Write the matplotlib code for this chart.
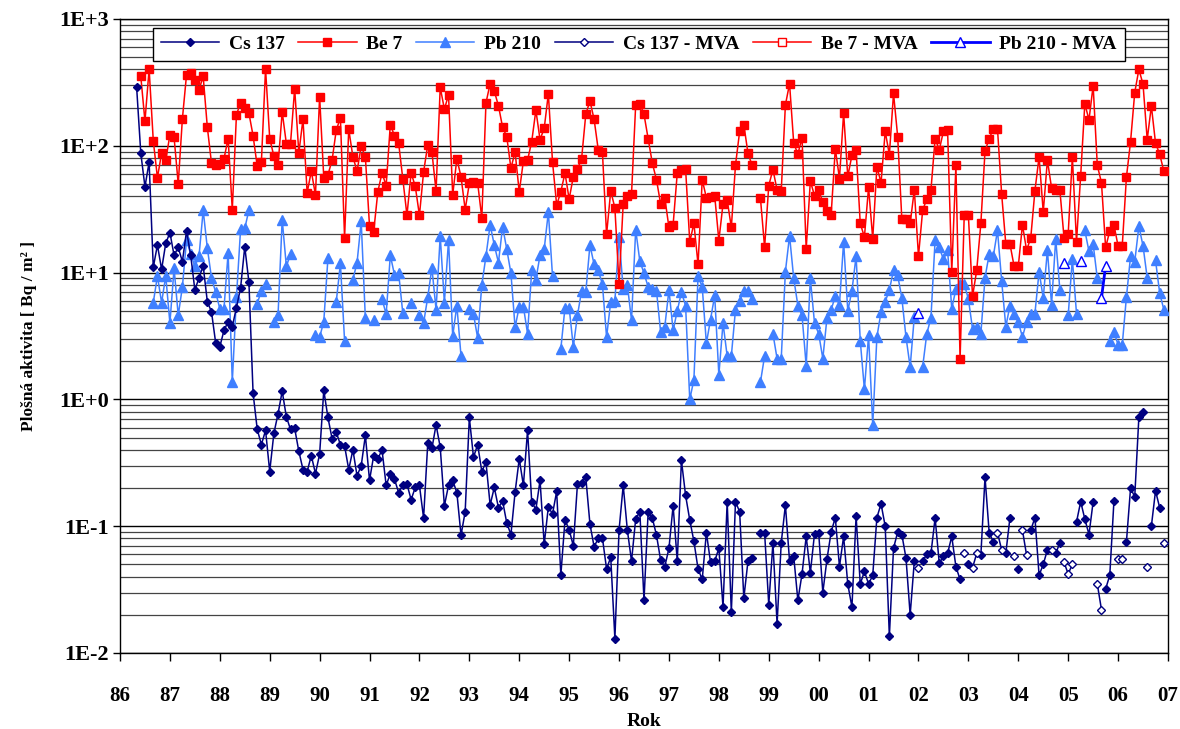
import numpy as np
import pandas as pd
import matplotlib
matplotlib.use("Agg")
import matplotlib.pyplot as plt
from matplotlib.ticker import FixedLocator, LogLocator, NullFormatter, FuncFormatter

nan = np.nan

# ---------------- data (monthly, first month = May 1986) ----------------
first_month = "1986-05"
n_months = 248

cs137 = [
    289, 87.5, 47.5, 74.3, 11, 16.5, 10.6, 17, 20.7, 13.7, 15.8, 12.2, 21.3, 13.7, 7.3, 9.1,
    11.3, 5.9, 4.9, 2.8, 2.6, 3.5, 4.1, 3.75, 5.3, 7.6, 16, 8.4, 1.12, 0.58, 0.44, 0.57,
    0.27, 0.54, 0.77, 1.16, 0.73, 0.58,
    0.59, 0.39, 0.28, 0.27, 0.36, 0.26, 0.37, 1.18, 0.72, 0.49, 0.55, 0.44, 0.43, 0.28,
    0.40, 0.25, 0.30, 0.52, 0.23, 0.36, 0.34, 0.40, 0.21, 0.26, 0.235, 0.184, 0.21, 0.215,
    0.162, 0.202, 0.21, 0.116, 0.45, 0.41, 0.63, 0.42, 0.145, 0.21, 0.23, 0.184, 0.085, 0.13,
    0.72, 0.35, 0.44, 0.27, 0.32, 0.147, 0.202, 0.14, 0.158, 0.106, 0.086, 0.185, 0.34, 0.21,
    0.57, 0.156, 0.135, 0.23, 0.072, 0.142, 0.125, 0.188, 0.041, 0.112, 0.094, 0.07, 0.215,
    0.22, 0.244, 0.104, 0.069, 0.08, 0.081, 0.046, 0.057, 0.013, 0.093, 0.21, 0.093, 0.053,
    0.114, 0.13,
    0.026, 0.13, 0.116, 0.085, 0.054, 0.048, 0.067, 0.145, 0.053, 0.33, 0.175, 0.112, 0.076,
    0.046, 0.038, 0.089, 0.052, 0.053, 0.067, 0.023, 0.156, 0.021, 0.156, 0.13, 0.027, 0.053,
    0.056, nan, 0.089, 0.089, 0.024, 0.074, 0.017, 0.074, 0.147, 0.053, 0.058, 0.026, 0.042,
    0.083, 0.043, 0.087,
    0.089, 0.03, 0.055, 0.09, 0.117, 0.048, 0.083, 0.035, 0.023, 0.12, 0.035, 0.044, 0.035,
    0.041, 0.117, 0.15, 0.1, 0.0135, 0.067, 0.09, 0.086, 0.056, 0.02, 0.053, nan, 0.053, 0.06,
    0.061, 0.116, 0.051, 0.058, 0.061, 0.083, 0.048, 0.038, nan, 0.05, nan, nan, 0.059, 0.244,
    0.089,
    0.075, nan, nan, 0.061, 0.117, nan, 0.046, nan, nan, 0.093, 0.117, 0.041, 0.05, 0.065, nan,
    0.061, 0.074, nan, nan, nan, 0.108, 0.156, 0.114, 0.086, 0.156, nan, nan, 0.032, 0.041,
    0.158, nan, nan, 0.075, 0.2, 0.17, 0.73, 0.79, nan, 0.1, 0.19, 0.14, nan,
]

be7 = [nan] + [
    353, 156, 404, 110, 56, 87.5, 77, 122, 117, 50, 163, 364, 375, 333, 277, 353, 140, 73,
    70, 72, 79, 114, 31.4, 176, 218, 198, 181, 120, 69, 75, 404, 114, 83, 70, 185, 104, 104,
    283, 88, 162, 42.6, 63, 41, 244, 56, 59, 77, 133, 166, 18.8, 135, 82, 63, 99, 82, 23.2, 21,
    43.5, 61, 48.6, 147, 120, 105, 55, 28.3, 61, 48, 28.3, 62, 102, 89.5, 43.9, 289, 195, 251,
    41, 79, 57, 31.4,
    50.5, 52, 51, 26.9, 218, 309, 270, 207, 140, 118, 66.5, 89.5, 43.2, 76, 77, 108, 191, 112,
    137, 257, 75, 34, 43.5, 61, 38, 57, 65.5, 79.4, 177, 226, 162, 93, 89.5, 20, 44, 32.4, 8.1,
    35, 40, 41.6, 210, 215,
    177, 114, 73, 54, 34.8, 38.9, 22.7, 23.8, 61, 65, 66, 17.5, 24.4, 11.6, 54, 38.9, 39.5,
    40.4, 17.9, 34.8, 37.5, 22.7, 70.5, 130, 147, 87.5, 70, nan, 38.6, 15.8, 48.6, 65, 44.9, 44,
    210, 309, 105, 86, 116, 15.4, 52.8, 40.4,
    44.9, 35.9, 30.5, 28.7, 94.9, 55.2, 181, 57.3, 84.3, 92.9, 24.4, 19.1, 46.9, 18.5, 68, 51.3,
    130, 85, 259, 118, 26.3, 26.3, 24.4, 44.9, 13.5, 30.9, 38.1, 44.9, 114, 92.9, 130, 133,
    10.1, 70, 2.07, 28.3, 28.3, 6.5, 10.4, 24.4, 90.9, 114,
    136, 136, 41.6, 16.8, 16.8, 11.2, 11.2, 23.8, 15, 18.8, 44.2, 81.8, 30, 77, 46.6, 44.9,
    44.9, 18.8, 20.2, 81.8, 17.5, 58.2, 215, 160, 298, 70, 51.3, 15.8, 21.3, 23.8, 16.2, 16.2,
    56.5, 108, 263, 401, 305, 112, 206, 105, 86, 63,
]

pb210 = [nan] * 4 + [
    5.8, 9.4, 5.8, 9.4, 4.0, 10.8, 4.6, 7.7, 18.1, 14, 11.2, 13.5, 31, 15.6, 9.1, 7, 5.2, 5.2,
    14.3, 1.37, 6.4, 22.1, 22.3, 31.2, nan, 5.7, 7.2, 8.1, nan, 4.1, 4.6, 26.2, 11.2, 14,
    nan, nan, nan, nan, nan, 3.24, 3.1, 4.1, 13, nan, 5.9, 11.8, 2.9, nan, 8.8, 12, 25.3, 4.35,
    nan, 4.2, nan, 6.2, 4.7, 13.7, 9.6, 9.9, 4.8, nan, 5.8, nan, 4.6, 4.0, 6.4, 10.9, 5.1, 19.5,
    5.8, 18.1, 3.16, 5.5, 2.2,
    nan, 5.2, 4.7, 3.05, 8, 13.5, 23.8, 16.5, 12, 23, 15.3, 9.9, 3.7, 5.4, 5.4, 3.3, 10.4, 8.8,
    13.7, 15.3, 30, 9.4, nan, 2.5, 5.3, 5.3, 2.6, 4.6, 7.2, 7, 16.5, 11.6, 10.4, 8.1, 3.1, 5.9,
    6.0, 19.1, 7.4, 8, 4.2, 21.8, 12.3,
    9.9, 7.7, 7.4, 7.2, 3.4, 3.75, 7.3, 3.5, 5.0, 7.0, 5.5, 1.0, 1.43, 9.4, 7.7, 2.77, 4.26,
    6.6, 1.56, 4.0, 2.2, 2.2, 5.1, 6.0, 7.2, 7.2, 6.2, nan, 1.37, 2.2, nan, 3.3, 2.1, 2.1, 10.2,
    19.5, 9.0, 5.5, 4.6, 1.84, 9, 4.0,
    3.3, 2.1, 4.4, 5.1, 6.5, 5.6, 17.5, 5.0, 7.2, 13.5, 2.9, 1.2, 3.2, 0.63, 3.1, 4.9, 5.9, 7.3,
    10.4, 9.5, 6.3, 3.1, 1.8, 4.5, nan, 1.8, 3.3, 4.4, 18.1, 15.8, 12.7, 15, 5.2, 7.4, 8.1, 8.1,
    6.2, 3.6, 3.75, 3.3, 9.1, 14,
    13.5, 21.5, 8.6, 3.75, 5.5, 4.75, 4.1, 3.1, 4.1, 4.75, 4.75, 10.2, 6.3, 15, 5.6, 18.4, 7.3,
    nan, 4.6, 12.8, 4.75, nan, 21.5, 14.7, 16.8, 9.0, nan, nan, 2.9, 3.4, 2.7, 2.7, 6.4, 13.5,
    12.2, 23.2, 16.2, 9.1, nan, 12.5, 6.9, 5.1,
]

# substitute (MVA) values
cs137_mva_dates = ["2002-01", "2002-12", "2003-02", "2003-03", "2003-08", "2003-09", "2003-12",
                   "2004-02", "2004-03", "2004-09", "2004-12", "2005-01", "2005-02", "2005-08",
                   "2005-09", "2006-01", "2006-02", "2006-08", "2006-12"]
cs137_mva = [0.047, 0.061, 0.047, 0.061, 0.089, 0.065, 0.058, 0.093, 0.059, 0.065, 0.052,
             0.042, 0.05, 0.035, 0.022, 0.055, 0.055, 0.048, 0.074]
be7_mva_dates = []
be7_mva = []
pb210_mva_dates = ["2002-01", "2004-12", "2005-04", "2005-09", "2005-10"]
pb210_mva = [4.8, 11.9, 12.3, 6.3, 11.3]

x_ticks = list(range(86, 108))
x_labels = [f"{t % 100:02d}" for t in x_ticks]
y_ticks = [1e-2, 1e-1, 1e0, 1e1, 1e2, 1e3]
y_labels = ["1E-2", "1E-1", "1E+0", "1E+1", "1E+2", "1E+3"]

# ---------------- helpers ----------------
months = pd.period_range(first_month, periods=n_months, freq="M")
xm = (months.year - 1900) + (months.month - 1) / 12.0


def full_series(dates, vals):
    s = pd.Series(vals, index=pd.PeriodIndex(dates, freq="M"), dtype=float)
    return s.reindex(months).to_numpy()


assert len(cs137) == n_months and len(be7) == n_months and len(pb210) == n_months

# ---------------- style ----------------
FONT = ["Liberation Serif", "DejaVu Serif"]
plt.rcParams["font.family"] = FONT
plt.rcParams["font.weight"] = "bold"

C_CS = "#000080"
C_BE = "#FF0000"
C_PB = "#3F7FFF"
C_PBM = "#0000FF"

fig = plt.figure(figsize=(11.8, 7.29), dpi=100)
ax = fig.add_axes([120 / 1180, 1 - 653 / 729, 1048 / 1180, 634 / 729])
ax.set_yscale("log")

lw = 1.1
l_pb, = ax.plot(xm, pb210, color=C_PB, lw=lw, marker="^", ms=6.5, mec=C_PB, zorder=3)
l_be, = ax.plot(xm, be7, color=C_BE, lw=lw, marker="s", ms=6, mec=C_BE, zorder=4)
l_cs, = ax.plot(xm, cs137, color=C_CS, lw=lw, marker="D", ms=4.5, mec=C_CS, zorder=5)
l_csm, = ax.plot(xm, full_series(cs137_mva_dates, cs137_mva), color=C_CS, lw=lw, marker="D",
                 ms=4.5, mfc="white", mec=C_CS, mew=1.0, zorder=5)
l_bem, = ax.plot(xm, full_series(be7_mva_dates, be7_mva), color=C_BE, lw=lw, marker="s",
                 ms=6, mfc="white", mec=C_BE, mew=1.0, zorder=4)
l_pbm, = ax.plot(xm, full_series(pb210_mva_dates, pb210_mva), color=C_PBM, lw=2.0, marker="^",
                 ms=6.5, mfc="white", mec=C_PBM, mew=1.0, zorder=4)

ax.set_xlim(86, 107)
ax.set_ylim(1e-2, 1e3)

ax.xaxis.set_major_locator(FixedLocator(x_ticks))
ax.set_xticklabels(x_labels)
ax.yaxis.set_major_locator(FixedLocator(y_ticks))
ax.yaxis.set_major_formatter(FuncFormatter(lambda v, p: y_labels[y_ticks.index(v)] if v in y_ticks else ""))
ax.yaxis.set_minor_locator(LogLocator(base=10, subs=range(2, 10)))
ax.yaxis.set_minor_formatter(NullFormatter())

ax.tick_params(axis="x", which="major", direction="out", length=6, width=1, pad=18,
               labelsize=15, colors="black")
ax.tick_params(axis="y", which="major", direction="out", length=5, width=1, pad=3,
               labelsize=16)
ax.tick_params(axis="y", which="minor", length=0)
for lab in ax.get_xticklabels() + ax.get_yticklabels():
    lab.set_fontweight("bold")

ax.grid(True, axis="y", which="major", color="black", lw=1.0, zorder=1)
ax.grid(True, axis="y", which="minor", color="#444444", lw=0.9, zorder=1)
ax.grid(False, axis="x")
ax.set_axisbelow(True)
for sp in ax.spines.values():
    sp.set_color("black")
    sp.set_linewidth(1.0)

ax.set_xlabel("Rok", fontsize=14, fontweight="bold", labelpad=5)
ax.set_ylabel("Plošná aktivita [ Bq / m² ]", fontsize=12.5, fontweight="bold", labelpad=16)

leg = ax.legend([l_cs, l_be, l_pb, l_csm, l_bem, l_pbm],
                ["Cs 137", "Be 7", "Pb 210", "Cs 137 - MVA", "Be 7 - MVA", "Pb 210 - MVA"],
                loc="upper left", bbox_to_anchor=(0.0315, 0.931, 0.927, 0.0555), mode="expand",
                borderaxespad=0.0, ncol=6, frameon=True, fancybox=False, framealpha=1,
                edgecolor="black", handlelength=3.0, handletextpad=0.5, borderpad=0.4,
                columnspacing=1.2, prop={"weight": "bold", "size": 14, "family": FONT})
leg.get_frame().set_linewidth(1.0)
leg.set_zorder(10)

fig.savefig("out.png", dpi=100)
